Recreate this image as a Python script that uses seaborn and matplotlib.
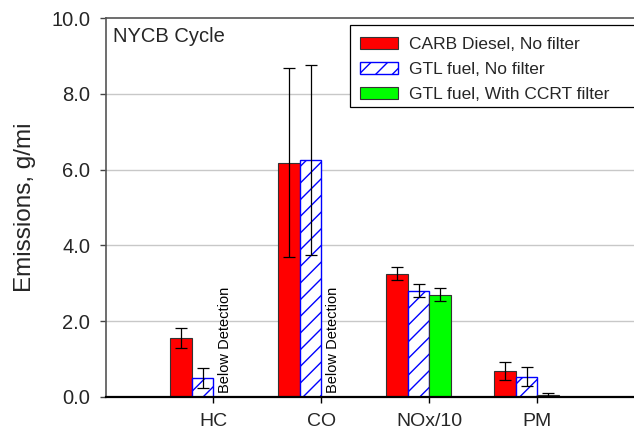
import numpy as np
import pandas as pd
import matplotlib
matplotlib.use("Agg")
import matplotlib.pyplot as plt
from matplotlib.container import BarContainer
from matplotlib.patches import Rectangle
import seaborn as sns

# ---- data ----
categories = ["HC", "CO", "NOx/10", "PM"]
series = ["CARB Diesel, No filter", "GTL fuel, No filter", "GTL fuel, With CCRT filter"]
carb = [1.56, 6.18, 3.25, 0.69]
carb_err = [0.27, 2.49, 0.17, 0.235]
gtl = [0.51, 6.25, 2.81, 0.54]
gtl_err = [0.26, 2.50, 0.17, 0.24]
ccrt = [np.nan, np.nan, 2.70, 0.06]
ccrt_err = [np.nan, np.nan, 0.17, 0.05]
y_ticks = [0.0, 2.0, 4.0, 6.0, 8.0, 10.0]
note = "Below Detection"
cycle_label = "NYCB Cycle"

values = [carb, gtl, ccrt]
errors = [carb_err, gtl_err, ccrt_err]

rows = []
for s, vals, errs in zip(series, values, errors):
    for c, v, e in zip(categories, vals, errs):
        rows.append({"pollutant": c, "fuel": s, "value": v, "err": e})
df = pd.DataFrame(rows)
df_plot = df.dropna(subset=["value"])

sns.set_style("white")
plt.rcParams["font.family"] = ["Liberation Sans", "DejaVu Sans"]
plt.rcParams["hatch.linewidth"] = 1.0

fig = plt.figure(figsize=(6.34, 4.32), dpi=100)
ax = fig.add_axes([106 / 634, 35 / 432, (645 - 106) / 634, 379 / 432])

palette = {series[0]: "#ff0000", series[1]: "#ffffff", series[2]: "#00ff00"}
sns.barplot(data=df_plot, x="pollutant", y="value", hue="fuel",
            order=categories, hue_order=series, palette=palette,
            width=0.6, dodge=True, errorbar=None, saturation=1,
            legend=False, ax=ax, zorder=3)

bar_containers = [c for c in ax.containers if isinstance(c, BarContainer)]

# style bars and add error bars
for h, cont in enumerate(bar_containers):
    for p in cont.patches:
        if h == 1:
            p.set_facecolor("white")
            p.set_edgecolor("#0000ff")
            p.set_hatch("//")
            p.set_linewidth(1.0)
        else:
            p.set_edgecolor("#333333")
            p.set_linewidth(0.8)
        hgt = p.get_height()
        if not np.isfinite(hgt):
            continue
        xc = p.get_x() + p.get_width() / 2
        ci = int(round(xc))
        e = errors[h][ci]
        ax.errorbar(xc, hgt, yerr=e, fmt="none", ecolor="black",
                    elinewidth=0.9, capsize=4, capthick=0.9, zorder=5)

# Below Detection notes
for i, v in enumerate(ccrt):
    if not np.isfinite(v):
        ax.text(i + 0.21, 0.1, note, rotation=90, ha="center", va="bottom",
                fontsize=10.5, color="black", zorder=6)

# axes styling
ax.set_ylim(0, 10)
ax.set_xlim(-0.894, 4.097)
ax.set_yticks(y_ticks)
ax.set_yticklabels([f"{t:.1f}" for t in y_ticks])
ax.set_xticks([i + 0.1 for i in range(len(categories))])
ax.set_xticklabels(categories)
ax.set_xlabel("")
ax.set_ylabel("Emissions, g/mi", fontsize=17.5, labelpad=11)
ax.tick_params(axis="y", direction="out", length=4.3, width=1, color="#444444",
               labelsize=14.5, pad=7, left=True)
ax.tick_params(axis="x", direction="out", length=4.3, width=1, color="black",
               labelsize=14, pad=7.5, bottom=True)
for y in y_ticks[1:-1]:
    ax.axhline(y, color="#c8c8c8", lw=1.0, zorder=0)
ax.spines["left"].set_color("#555555")
ax.spines["left"].set_linewidth(1.2)
ax.spines["top"].set_color("#555555")
ax.spines["top"].set_linewidth(1.2)
ax.spines["right"].set_visible(False)
ax.spines["bottom"].set_color("black")
ax.spines["bottom"].set_linewidth(1.6)
ax.spines["bottom"].set_zorder(6)

ax.text(0.0125, 0.975, cycle_label, transform=ax.transAxes, ha="left", va="top",
        fontsize=14.5)

# legend frame (extends past the right edge like the reference)
frame = Rectangle((350 / 634, 1 - 107 / 432), 320 / 634, 82 / 432,
                  transform=fig.transFigure, facecolor="white",
                  edgecolor="black", linewidth=0.9, zorder=9, clip_on=False)
ax.add_patch(frame)
leg = ax.legend(bar_containers, series, loc="upper left",
                bbox_to_anchor=(360 / 634, 1 - 37 / 432),
                bbox_transform=fig.transFigure, borderaxespad=0, borderpad=0,
                fontsize=12.5, handlelength=2.2, handleheight=0.65,
                handletextpad=0.6, labelspacing=0.58,
                frameon=False)
leg.set_zorder(10)

fig.savefig("out.png", dpi=100)
